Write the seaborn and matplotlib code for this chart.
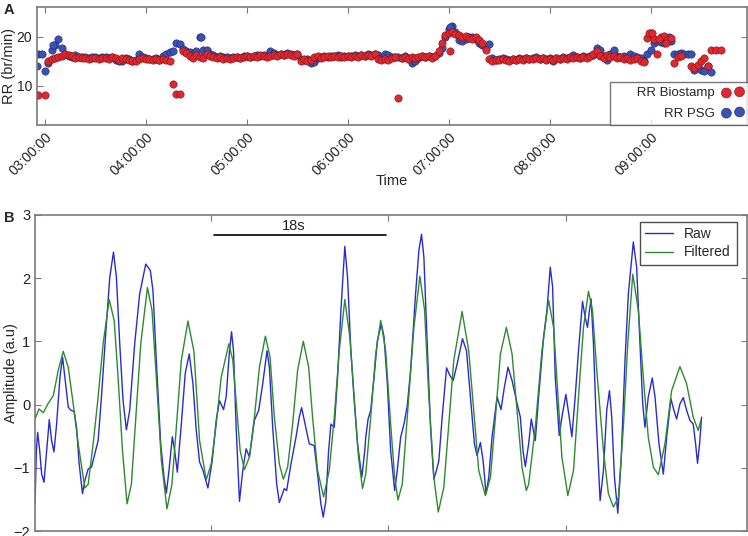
import numpy as np
import pandas as pd
import matplotlib
matplotlib.use("Agg")
import matplotlib.pyplot as plt
import matplotlib.dates as mdates
import seaborn as sns

nan = np.nan

# Panel A: respiration rate, one reading every 2 min (02:56 .. 09:50)

rr_biostamp = (
    [8.2, nan]
    + [8.2, 15.1, 15.4, 15.7, 15.8, 16.1, 16.4, 16.2, 16.0, 15.7, 15.8, 15.6, 15.7, 15.5, 15.7,
       15.6, 15.4, 15.6, 15.7, 15.5, 15.8, 15.6, 15.3, 15.7, 15.5, 15.2, 15.0, 15.1, 15.4, 15.6]
    + [15.4, 15.5, 15.3, 15.5, 15.2, 15.4, 15.3, 15.1, 10.4, 8.4, 8.4, 17.1, 16.7, 16.0, 15.7,
       16.2, 15.8, 15.7, 16.4, 16.0, 15.9, 15.6, 15.8, 15.5, 15.7, 15.4, 15.6, 15.8, 15.6, 15.9]
    + [16.0, 15.8, 16.1, 15.9, 16.2, 16.0, 15.8, 16.1, 16.3, 16.0, 16.4, 16.2, 16.5, 16.3, 16.1,
       16.4, 15.1, 15.4, 15.0, 15.3, 15.8, 16.0, 15.7, 15.9, 16.0, 15.8, 16.1, 15.9, 16.0, 15.8]
    + [16.0, 15.9, 16.1, 15.9, 16.2, 16.0, 16.3, 16.1, 16.4, 15.4, 15.2, 15.5, 15.3, 15.7, 15.8,
       7.5, 15.6, 15.9, 15.5, 15.8, 15.6, 15.9, 16.0, 15.8, 16.0, 15.7, 16.0, 17.0, 18.8, 20.4]
    + [20.8, 21.0, 20.6, 20.3, 20.0, 20.2, 19.8, 19.6, 19.9, 19.4, 18.8, 17.4, 15.4, 15.0, 15.3,
       15.2, 15.5, 15.3, 15.0, 15.4, 15.2, 15.5, 15.3, 15.6, 15.4, 15.5, 15.7, 15.4, 15.6, 15.3]
    + [15.5, 15.3, 15.6, 15.4, 15.7, 15.5, 15.8, 15.6, 15.8, 15.6, 15.9, 15.7, 16.0, 16.4, 17.1,
       16.0, 15.7, 16.2, 15.8, 16.0, 15.6, 15.9, 15.5, 15.7, 15.3, 15.4, 15.6, 15.0, 14.8, 19.8]
    + [20.8, 19.6, 16.4, 20.0, 20.2, 19.3, 19.8, 14.7, 15.8, 16.0, nan, nan, 14.0, 13.6, 14.3,
       15.0, 15.7, 14.0, 17.4, nan, nan, nan, nan, nan, nan, nan]
)

rr_psg = (
    [16.4, 16.4]
    + [13.1, 14.6, 17.4, 18.4, 19.6, 17.7, 16.4, 16.0, 15.8, 16.2, 15.9, 15.8, 15.9, 15.7, 15.9,
       15.8, 15.7, 15.8, 15.9, 15.7, 15.9, 15.3, 15.0, 15.0, 15.6, 15.4, 15.1, 15.3, 16.4, 15.8]
    + [15.6, 15.5, 15.4, 15.6, 15.3, 16.0, 16.4, 16.8, 17.2, 18.7, 18.5, 17.6, 17.1, 16.8, 16.4,
       17.1, 20.0, 17.4, 17.4, 16.4, 16.2, 15.9, 16.1, 15.8, 15.9, 15.6, 15.8, 15.9, 15.7, 16.0]
    + [16.1, 15.9, 16.0, 16.2, 16.0, 16.3, 16.1, 17.0, 16.6, 16.2, 16.5, 16.3, 16.6, 16.4, 16.2,
       16.5, 15.4, 15.2, 15.4, 14.7, 14.8, 15.6, 15.9, 16.0, 15.8, 16.1, 16.0, 16.2, 15.9, 16.1]
    + [16.1, 16.0, 16.2, 16.0, 16.3, 16.1, 16.4, 16.2, 16.5, 16.3, 15.6, 16.4, 16.2, 15.9, 15.9,
       15.8, 15.7, 16.0, 15.6, 14.7, 15.0, 15.6, 16.0, 15.9, 16.1, 15.8, 16.0, 16.6, 17.8, 20.0]
    + [21.5, 22.2, 21.0, 19.3, 19.1, 19.6, 19.9, 20.0, 19.5, 18.8, 18.3, 18.0, 18.5, 15.6, 15.3,
       15.4, 15.6, 15.4, 15.2, 15.5, 15.3, 15.6, 15.4, 15.7, 15.5, 15.6, 15.8, 15.5, 15.7, 15.4]
    + [15.6, 15.1, 15.7, 15.5, 15.8, 15.6, 15.9, 16.2, 15.9, 15.7, 16.0, 15.8, 16.1, 16.3, 17.7,
       17.4, 16.0, 15.2, 16.4, 17.4, 16.0, 15.8, 16.0, 15.6, 16.4, 16.0, 15.8, 15.7, 15.0, 16.4]
    + [17.4, 18.8, 19.2, 19.0, 18.7, 19.8, 19.1, 16.4, 16.5, 16.6, 16.5, 16.4, 16.5, 13.3, 14.0,
       13.3, 13.0, 14.0, 12.9, nan, nan, nan, nan, nan, nan, nan]
)

# readings that fall between the 2 min slots
biostamp_extra_times = ["07:01", "08:59", "09:01", "09:05", "09:09", "09:39", "09:42"]
biostamp_extra_rr = [17.1, 20.8, 20.8, 19.5, 18.8, 17.4, 17.4]
psg_extra_times = ["02:55", "03:05", "04:33", "07:01", "09:11"]
psg_extra_rr = [14.0, 18.4, 20.0, 22.0, 20.0]

# Panel B: breathing signal, time in s

raw_t = [
    0.00, 0.14, 0.27, 0.48, 0.68, 0.92, 1.19, 1.46, 1.70, 1.94,
    2.21, 2.55, 2.82, 3.13, 3.40, 3.67, 4.01, 4.25, 4.52, 4.86,
    5.10, 5.44, 5.78, 6.12, 6.46, 6.80, 7.21, 7.65, 8.03, 8.33,
    8.67, 9.01, 9.35, 9.69, 10.20, 10.71, 11.33, 11.80, 12.07, 12.41,
    12.86, 13.20, 13.44, 13.71, 14.05, 14.29, 14.56, 14.97, 15.37, 15.78,
    16.16, 16.50,
    16.84, 17.18, 17.69, 18.13, 18.54, 18.88, 19.29, 19.56, 19.90, 20.11,
    20.31, 20.58, 20.92, 21.26, 21.60, 21.94, 22.21, 22.45, 22.89, 23.30,
    23.74, 23.98, 24.32, 24.73, 25.00, 25.51, 25.75, 26.19, 26.70, 27.04,
    27.28, 27.55, 28.06, 28.57, 28.91, 29.25, 29.49, 29.76, 30.04, 30.28,
    30.62, 30.96, 31.30, 31.70, 31.98, 32.32, 32.66, 33.00, 33.44, 33.74,
    33.84, 34.08, 34.35, 34.69, 35.03, 35.44, 35.71, 36.05, 36.39, 36.80,
    37.07, 37.41, 37.75, 38.09, 38.43, 38.94, 39.28, 39.55, 39.79, 40.13,
    40.47, 40.81, 41.08, 41.32, 41.66, 42.11, 42.45, 42.79, 43.19, 43.74,
    44.15, 44.55, 44.96, 45.23, 45.57, 45.85, 46.15, 46.43, 46.76, 47.28,
    47.68, 48.02, 48.40, 48.81, 49.32, 49.66, 49.93, 50.17, 50.51,
    50.78, 51.19, 51.53, 52.04, 52.38, 52.72, 52.96, 53.23, 53.64, 53.91,
    54.32, 54.66, 54.93, 55.27, 55.61, 56.02, 56.29, 56.53, 56.73, 56.90,
    57.14, 57.41, 57.82, 58.16, 58.50, 58.78, 59.01, 59.29, 59.63, 59.97,
    60.37, 60.71, 61.22, 61.56, 61.90, 62.18, 62.41, 62.75, 63.16, 63.44,
    63.84, 64.29, 64.63, 65.07, 65.37, 65.65, 65.99, 66.33, 66.67, 67.01,
    67.35, 67.59, 67.79, 68.00, 68.20,
]
raw_amp = [
    -1.57, -0.73, -0.44, -0.73, -1.10, -1.23, -0.73, -0.24, -0.57, -0.75,
    -0.31, 0.43, 0.75, 0.33, -0.04, -0.09, -0.11, -0.36, -0.94, -1.41,
    -1.20, -1.02, -0.99, -0.78, -0.57, 0.12, 1.07, 2.01, 2.41, 2.01,
    0.96, 0.06, -0.40, -0.09, 0.96, 1.75, 2.22, 2.12, 1.80, 0.70,
    -0.62, -1.15, -1.40, -1.04, -0.51, -0.73, -1.07, -0.31, 0.49, 0.80,
    0.33, -0.41,
    -0.91, -1.04, -1.32, -0.89, -0.25, 0.06, -0.08, 0.12, 0.85, 1.15,
    0.85, -0.36, -1.53, -1.04, -0.70, -0.83, -0.52, -0.25, -0.09, 0.33,
    0.85, 0.59, -0.36, -1.26, -1.55, -1.33, -1.36, -0.94, -0.52, -0.20,
    -0.05, -0.25, -0.62, -0.65, -1.10, -1.57, -1.78, -1.52, -0.73, -0.31,
    -0.36, 0.43, 1.49, 2.50, 2.01, 0.85, 0.06, -0.62, -1.15, -0.73,
    -0.52, -0.23, -0.09, 0.43, 1.01, 1.28, 1.07, 0.33, -0.73, -1.36,
    -1.04, -0.52, -0.31, -0.02, 0.54, 1.75, 2.44, 2.69, 2.33, 0.96,
    -0.36, -1.18, -1.04, -0.89, -0.20, 0.58, 0.46, 0.38, 0.64, 1.04,
    0.85, 0.12, -0.62, -0.81, -0.60, -0.89, -1.41, -1.15, -0.52, 0.12,
    -0.08, 0.27, 0.59, 0.38, 0.02, -0.20, -0.73, -0.98, -0.62,
    -0.23, -0.57, 0.12, 1.07, 1.49, 2.17, 1.86, 0.43, -0.49, -0.20,
    0.16, -0.20, -0.51, 0.12, 0.85, 1.63, 1.38, 1.22, 1.49, 1.67,
    0.96, -0.20, -1.52, -1.04, -0.09, 0.22, -0.20, -1.15, -1.72, -0.89,
    0.70, 1.75, 2.57, 2.17, 0.96, 0.01, -0.36, 0.12, 0.42, 0.12,
    -0.62, -1.10, -0.52, 0.09, -0.09, -0.23, 0.01, 0.11, -0.09, -0.25,
    -0.31, -0.62, -0.93, -0.62, -0.20,
]

filt_t = [
    0.00, 0.41, 0.85, 1.36, 1.87, 2.38, 2.89, 3.40, 3.91, 4.42,
    5.10, 5.44, 5.95, 6.46, 6.97, 7.59, 8.10, 8.50, 8.95, 9.42,
    9.86, 10.37, 10.82, 11.50, 11.97, 12.41, 12.93, 13.50, 14.01, 14.46,
    14.97, 15.65, 16.26,
    16.84, 17.52, 18.03, 18.54, 19.05, 19.83, 20.24, 20.65, 20.99, 21.43,
    21.94, 22.45, 22.96, 23.57, 24.05, 24.49, 25.00, 25.41, 25.85, 26.36,
    26.87, 27.45, 28.00, 28.40, 28.91, 29.53, 30.11, 30.62, 31.13, 31.70,
    32.21, 32.66, 33.10, 33.51,
    33.84, 34.35, 34.86, 35.37, 35.88, 36.39, 36.80, 37.14, 37.58, 38.09,
    38.77, 39.38, 39.86, 40.30, 40.81, 41.26, 41.83, 42.34, 42.85, 43.70,
    44.38, 44.89, 45.40, 46.08, 46.60, 47.11, 47.62, 48.23, 48.81, 49.32,
    49.83, 50.27,
    50.51, 51.19, 51.87, 52.55, 53.06, 53.50, 53.91, 54.52, 55.10, 55.61,
    56.12, 56.63, 57.04, 57.48, 58.16, 58.67, 59.18, 59.69, 60.20, 60.65,
    61.16, 61.73, 62.24, 62.75, 63.27, 63.78, 64.46, 65.14, 65.99, 66.67,
    67.35, 67.86, 68.13,
]
filt_amp = [
    -0.23, -0.07, -0.13, 0.02, 0.14, 0.54, 0.84, 0.59, 0.01, -0.62,
    -1.32, -1.26, -0.62, 0.12, 0.96, 1.66, 1.33, 0.43, -0.73, -1.57,
    -1.26, -0.09, 0.96, 1.85, 1.49, 0.43, -0.89, -1.65, -1.26, -0.36,
    0.70, 1.32, 0.84,
    -0.57, -1.19, -0.94, -0.31, 0.43, 0.96, 0.70, -0.09, -0.73, -1.03,
    -0.83, -0.20, 0.59, 1.08, 0.75, -0.20, -0.94, -1.18, -0.99, -0.31,
    0.54, 1.00, 0.59, -0.20, -1.04, -1.46, -1.04, -0.20, 0.85, 1.66,
    1.07, 0.12, -0.83, -1.33,
    -1.10, -0.20, 0.80, 1.33, 0.85, -0.31, -1.15, -1.51, -1.26, -0.20,
    1.22, 2.03, 1.49, 0.12, -1.15, -1.70, -1.31, -0.31, 0.70, 1.47,
    0.85, -0.09, -1.04, -1.44, -1.15, -0.20, 0.80, 1.22, 0.80, -0.09,
    -0.99, -1.36,
    -1.26, -0.36, 0.85, 1.65, 1.22, 0.17, -0.83, -1.44, -1.04, 0.12,
    1.22, 1.79, 1.49, 0.54, -0.73, -1.41, -1.62, -1.47, -0.36, 0.96,
    2.06, 1.49, 0.43, -0.52, -0.99, -1.11, -0.62, 0.22, 0.60, 0.33,
    -0.20, -0.41, -0.25,
]

# Build frames 

day = "2016-01-01 "
slots = pd.date_range(day + "02:56", day + "09:50", freq="2min")
bio = pd.concat([
    pd.DataFrame({"time": slots, "rr": rr_biostamp}),
    pd.DataFrame({"time": pd.to_datetime([day + t for t in biostamp_extra_times]),
                  "rr": biostamp_extra_rr}),
]).dropna()
psg = pd.concat([
    pd.DataFrame({"time": slots, "rr": rr_psg}),
    pd.DataFrame({"time": pd.to_datetime([day + t for t in psg_extra_times]),
                  "rr": psg_extra_rr}),
]).dropna()

sns.set_style("ticks")
plt.rcParams["font.family"] = ["Liberation Sans", "DejaVu Sans"]
plt.rcParams["axes.edgecolor"] = "#7a7a7a"
plt.rcParams["axes.linewidth"] = 1.2

RED, RED_EDGE = "#e0272f", "#7d1414"
BLUE, BLUE_EDGE = "#3a52b4", "#1b2565"
TICK_KW = dict(direction="in", top=True, right=True, length=4, width=0.8,
               color="#7a7a7a", labelcolor="#222222")

fig = plt.figure(figsize=(7.48, 5.36), dpi=100)
ax_a = fig.add_axes([0.0495, 0.767, 0.9485, 0.22])
ax_b = fig.add_axes([0.0468, 0.0093, 0.9512, 0.59])

# Panel A 

sns.scatterplot(data=psg, x="time", y="rr", ax=ax_a, color=BLUE,
                edgecolor=BLUE_EDGE, linewidth=0.4, s=28, label="RR PSG", zorder=2)
sns.scatterplot(data=bio, x="time", y="rr", ax=ax_a, color=RED,
                edgecolor=RED_EDGE, linewidth=0.4, s=28, label="RR Biostamp", zorder=3)

ax_a.set_xlim(pd.Timestamp(day + "02:55:15"), pd.Timestamp(day + "09:57:00"))
ax_a.set_ylim(2, 26.1)
ax_a.set_yticks([10, 20])
ax_a.xaxis.set_major_locator(mdates.HourLocator())
ax_a.xaxis.set_major_formatter(mdates.DateFormatter("%H:%M:%S"))
ax_a.tick_params(labelsize=10, **TICK_KW)
plt.setp(ax_a.get_xticklabels(), rotation=45, ha="right", rotation_mode="anchor")
ax_a.set_xlabel("Time", fontsize=10.5, labelpad=-3)
ax_a.set_ylabel("RR (br/min)", fontsize=10.5)
ax_a.yaxis.set_label_coords(-0.029, 0.5)

handles, labels = ax_a.get_legend_handles_labels()
leg_a = ax_a.legend(handles[::-1], ["      RR Biostamp", "RR PSG"], loc="lower left",
                    bbox_to_anchor=(0.807, 0.0), borderaxespad=0,
                    markerfirst=False, scatterpoints=2, fontsize=9.5,
                    frameon=True, fancybox=False, edgecolor="#555555",
                    labelspacing=0.6, handletextpad=0.6, handlelength=1.6,
                    markerscale=1.35)
leg_a.get_frame().set_linewidth(1.0)

# Panel B 

sns.lineplot(x=raw_t, y=raw_amp, ax=ax_b, color="#2a2ad2", lw=1.0,
             sort=False, estimator=None, label="Raw", solid_joinstyle="round")
sns.lineplot(x=filt_t, y=filt_amp, ax=ax_b, color="#2f8a2f", lw=1.0,
             sort=False, estimator=None, label="Filtered", solid_joinstyle="round")

ax_b.plot([18.3, 35.9], [2.68, 2.68], color="black", lw=1.2)
ax_b.text(26.5, 2.71, "18s", ha="center", va="bottom", fontsize=10.5, color="#222222")

ax_b.set_xlim(0, 72.8)
ax_b.set_ylim(-2, 3)
ax_b.set_xticks([18, 36.1, 54.3])
ax_b.set_xticklabels([])
ax_b.set_yticks([-2, -1, 0, 1, 2, 3])
ax_b.set_yticklabels(["\u22122", "\u22121", "0", "1", "2", "3"])
ax_b.tick_params(labelsize=10.5, **TICK_KW)
ax_b.set_xlabel("")
ax_b.set_ylabel("Amplitude (a.u)", fontsize=10.5)
ax_b.yaxis.set_label_coords(-0.024, 0.5)

leg_b = ax_b.legend(loc="upper right", bbox_to_anchor=(0.986, 0.978), borderaxespad=0,
                    fontsize=10, frameon=True, fancybox=False, edgecolor="#222222",
                    handlelength=2.0, labelspacing=0.3)
leg_b.get_frame().set_linewidth(1.0)

# Panel letters
fig.text(0.005, 0.982, "A", fontsize=10.5, fontweight="bold", va="center")
fig.text(0.006, 0.594, "B", fontsize=10.5, fontweight="bold", va="center")

fig.savefig("out.png", dpi=100)
